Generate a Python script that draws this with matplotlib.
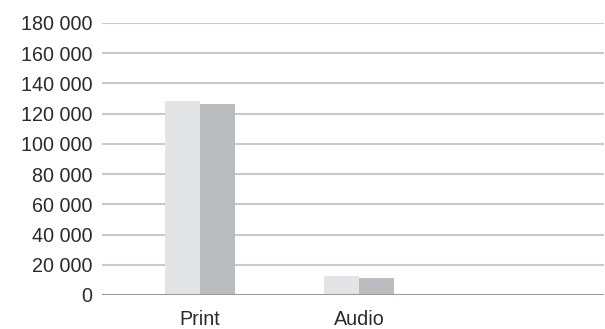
import numpy as np
import matplotlib.pyplot as plt

categories = ["Print", "Audio"]
series_a = [128500, 12600]
series_b = [126500, 11300]
yticks = [0, 20000, 40000, 60000, 80000, 100000, 120000, 140000, 160000, 180000]
ytick_labels = ["0", "20 000", "40 000", "60 000", "80 000", "100 000",
                "120 000", "140 000", "160 000", "180 000"]

plt.rcParams['font.family'] = ['Liberation Sans', 'DejaVu Sans']

fig = plt.figure(figsize=(6.05, 3.29), dpi=100)
ax = fig.add_axes([102 / 605, 34 / 329, 502 / 605, 272 / 329])

x = np.arange(len(categories))
w = 0.218
ax.bar(x - w / 2, series_a, width=w, color='#e3e4e6', zorder=3)
ax.bar(x + w / 2, series_b, width=w, color='#bbbcbf', zorder=3)

ax.set_xlim(-0.616, 2.54)
ax.set_ylim(0, 180000)
ax.set_yticks(yticks)
ax.set_yticklabels(ytick_labels)
ax.set_xticks(x)
ax.set_xticklabels(categories)

for y in yticks[1:]:
    ax.axhline(y, color='#cacaca', linewidth=1.5, zorder=1)
ax.axhline(0, color='#9a9a9a', linewidth=1.5, zorder=4)

for s in ax.spines.values():
    s.set_visible(False)
ax.tick_params(axis='both', length=0, labelsize=14.2, colors='#2b2b2b')
ax.tick_params(axis='y', pad=7)
ax.tick_params(axis='x', pad=11)

fig.savefig('out.png', dpi=100)
